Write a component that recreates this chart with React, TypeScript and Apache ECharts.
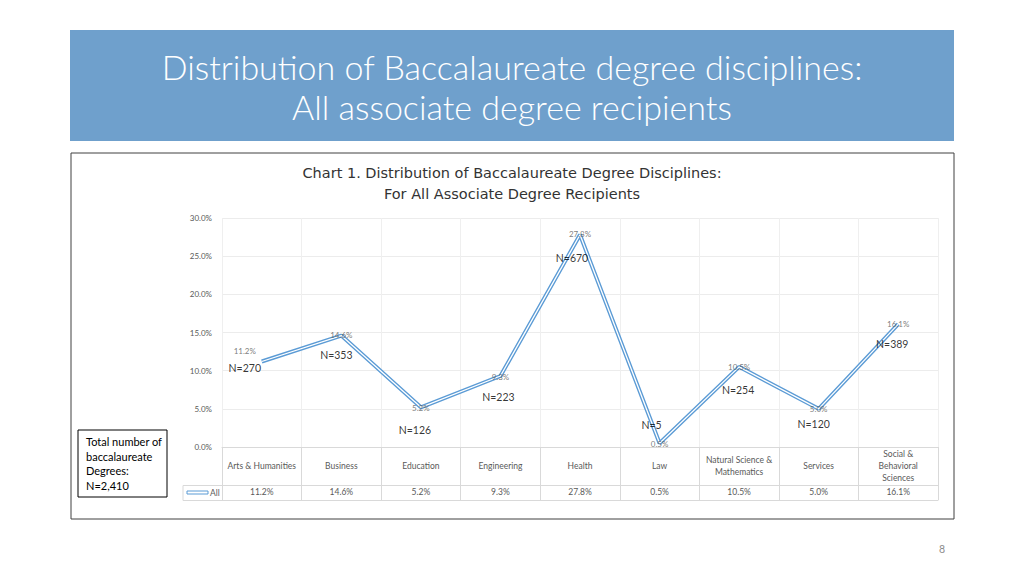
import { useEffect, useRef } from 'react'
import * as echarts from 'echarts'

// ---------- data ----------
const CATEGORIES = [
  'Arts & Humanities',
  'Business',
  'Education',
  'Engineering',
  'Health',
  'Law',
  'Natural Science &\nMathematics',
  'Services',
  'Social &\nBehavioral\nSciences',
]
const SHARES = [11.2, 14.6, 5.2, 9.3, 27.8, 0.5, 10.5, 5.0, 16.1]
const COUNTS = [270, 353, 126, 223, 670, 5, 254, 120, 389]
const TOTAL = '2,410'

// label offsets (px) relative to each point
const PCT_OFFSETS = [[-17, -11], [0, -1], [0, 1], [0, 1], [0, -1], [0, 1], [0, 0], [0, 0], [0, 0]]
const N_OFFSETS = [[-17, 6], [-5, 19], [-6, 23], [-2, 21], [-8, 23], [-8, -18], [-1, 23], [-5, 15], [-6, 20]]

const BLUE = '#5b9bd5'
const GRAY = '#595959'
const TABLE_LINE = '#d9d9d9'
const FONT = 'Lato, "Open Sans", sans-serif'
const TITLE_FONT = '300 34px Lato, "Open Sans", sans-serif'

const pct = (v: number) => v.toFixed(1) + '%'

export default function App() {
  const ref = useRef<HTMLDivElement>(null)

  useEffect(() => {
    document.body.style.margin = '0'
    if (!ref.current) return
    const chart = echarts.init(ref.current, undefined, { renderer: 'svg' })

    const option: echarts.EChartsOption = {
      animation: false,
      backgroundColor: '#ffffff',
      textStyle: { fontFamily: FONT },
      grid: [
        { left: 222, right: 86, top: 218, bottom: 129 },
        { left: 222, right: 86, top: 447, height: 53 },
      ],
      xAxis: [
        {
          type: 'category',
          gridIndex: 0,
          data: CATEGORIES,
          boundaryGap: true,
          axisLine: { lineStyle: { color: TABLE_LINE } },
          axisTick: { show: false },
          splitLine: { show: true, lineStyle: { color: '#efefef' } },
          axisLabel: {
            color: GRAY,
            fontSize: 8.5,
            lineHeight: 12,
            margin: 19,
            verticalAlign: 'middle',
            interval: 0,
          },
        },
        {
          type: 'category',
          gridIndex: 1,
          data: CATEGORIES,
          boundaryGap: true,
          position: 'bottom',
          axisLine: { lineStyle: { color: TABLE_LINE } },
          axisTick: { show: false },
          splitLine: { show: true, lineStyle: { color: TABLE_LINE } },
          axisLabel: {
            inside: true,
            margin: 8,
            verticalAlign: 'middle',
            color: GRAY,
            fontSize: 8.5,
            interval: 0,
            formatter: (_v: string, i: number) => pct(SHARES[i]),
          },
        },
      ],
      yAxis: [
        {
          type: 'value',
          gridIndex: 0,
          min: 0,
          max: 30,
          interval: 5,
          axisLine: { show: false },
          axisTick: { show: false },
          splitLine: { lineStyle: { color: '#ececec' } },
          axisLabel: { color: GRAY, fontSize: 8, margin: 10, formatter: (v: number) => pct(v) },
        },
        {
          type: 'value',
          gridIndex: 1,
          min: 0,
          max: 1,
          show: false,
        },
      ],
      series: [
        {
          name: 'All',
          type: 'line',
          xAxisIndex: 0,
          yAxisIndex: 0,
          symbol: 'none',
          lineStyle: { color: BLUE, width: 4 },
          data: SHARES,
          z: 2,
        },
        {
          name: 'All inner',
          type: 'line',
          xAxisIndex: 0,
          yAxisIndex: 0,
          symbol: 'none',
          silent: true,
          lineStyle: { color: '#ffffff', width: 1.3 },
          data: SHARES,
          z: 3,
        },
        {
          name: 'Share labels',
          type: 'scatter',
          xAxisIndex: 0,
          yAxisIndex: 0,
          symbolSize: 0,
          silent: true,
          data: SHARES.map((v, i) => ({
            value: v,
            label: { offset: PCT_OFFSETS[i] },
          })),
          label: {
            show: true,
            position: 'inside',
            color: GRAY,
            fontSize: 8,
            formatter: (p: any) => pct(p.value),
          },
          z: 4,
        },
        {
          name: 'N',
          type: 'scatter',
          xAxisIndex: 0,
          yAxisIndex: 0,
          symbolSize: 0,
          silent: true,
          data: SHARES.map((v, i) => ({
            value: v,
            label: { offset: N_OFFSETS[i] },
          })),
          label: {
            show: true,
            position: 'inside',
            color: '#000000',
            fontSize: 10.5,
            formatter: (p: any) => 'N=' + COUNTS[p.dataIndex],
          },
          z: 5,
        },
      ],
      graphic: [
        // title banner
        { type: 'rect', shape: { x: 70, y: 30, width: 884, height: 111 }, style: { fill: '#6fa0cc' } },
        {
          type: 'text',
          x: 512,
          y: 66,
          style: {
            text: 'Distribution of Baccalaureate degree disciplines:',
            fill: '#ffffff',
            font: TITLE_FONT,
            align: 'center',
            verticalAlign: 'middle',
          },
        },
        {
          type: 'text',
          x: 512,
          y: 106,
          style: {
            text: 'All associate degree recipients',
            fill: '#ffffff',
            font: TITLE_FONT,
            align: 'center',
            verticalAlign: 'middle',
          },
        },
        // chart frame
        {
          type: 'rect',
          shape: { x: 71, y: 153, width: 883, height: 366 },
          style: { fill: 'none', stroke: '#404040', lineWidth: 1 },
          z: -1,
        },
        {
          type: 'text',
          x: 512,
          y: 183,
          style: {
            text: 'Chart 1. Distribution of Baccalaureate Degree Disciplines:\nFor All Associate Degree Recipients',
            fill: '#333333',
            font: '14.5px "DejaVu Sans", sans-serif',
            lineHeight: 21,
            align: 'center',
            verticalAlign: 'middle',
          },
        },
        // data table borders
        {
          type: 'polyline',
          shape: { points: [[183, 485.5], [938, 485.5]] },
          style: { stroke: TABLE_LINE, lineWidth: 1 },
        },
        {
          type: 'polyline',
          shape: { points: [[222, 500.5], [183, 500.5], [183, 485.5]] },
          style: { fill: 'none', stroke: TABLE_LINE, lineWidth: 1 },
        },
        // legend key in table
        {
          type: 'rect',
          shape: { x: 187, y: 491, width: 21, height: 3 },
          style: { fill: '#ffffff', stroke: BLUE, lineWidth: 1 },
        },
        {
          type: 'text',
          x: 210,
          y: 493,
          style: { text: 'All', fill: GRAY, font: '8.5px Lato, sans-serif', verticalAlign: 'middle' },
        },
        // total text box
        {
          type: 'rect',
          shape: { x: 78, y: 430, width: 89, height: 67 },
          style: { fill: '#ffffff', stroke: '#000000', lineWidth: 1 },
        },
        {
          type: 'text',
          x: 86,
          y: 463.5,
          style: {
            text: 'Total number of\nbaccalaureate\nDegrees:\nN=' + TOTAL,
            fill: '#000000',
            font: '11px Lato, sans-serif',
            lineHeight: 14.5,
            verticalAlign: 'middle',
          },
        },
        // page number
        {
          type: 'text',
          x: 942,
          y: 549,
          style: { text: '8', fill: '#8c8c8c', font: '10.5px Lato, sans-serif', align: 'center', verticalAlign: 'middle' },
        },
      ],
    }

    chart.setOption(option)
    return () => chart.dispose()
  }, [])

  return <div ref={ref} style={{ position: 'absolute', left: 0, top: 0, width: 1024, height: 576 }} />
}
